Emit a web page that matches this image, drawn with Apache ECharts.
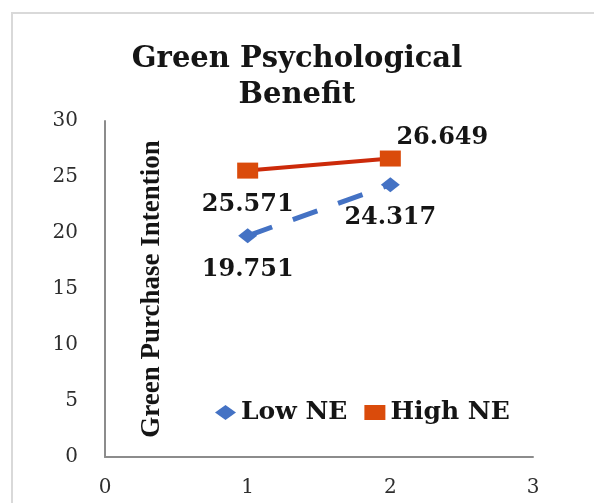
<!DOCTYPE html>
<html>
<head>
<meta charset="utf-8">
<script src="https://cdn.jsdelivr.net/npm/echarts@6/dist/echarts.min.js"></script>
<style>
  html, body { margin: 0; padding: 0; background: #fff; }
  #chart { width: 594px; height: 503px; }
</style>
</head>
<body>
<div id="chart"></div>
<script>
// values
const xValues = [1, 2];
const lowNE = [19.751, 24.317];
const highNE = [25.571, 26.649];
const seriesNames = ['Low NE', 'High NE'];

// the picture is a wide serif, DejaVu Serif gets the proportions closest
const wide = '"DejaVu Serif", serif';
const times = '"Liberation Serif", "Times New Roman", serif';

const toPoints = (vals) => vals.map((v, i) => [xValues[i], v]);

const labelStyle = {
  show: true,
  position: 'bottom',
  distance: 14,
  fontFamily: wide,
  fontWeight: 'bold',
  fontSize: 24,
  color: '#151515',
};

const chart = echarts.init(document.getElementById('chart'));

chart.setOption({
  animation: false,
  backgroundColor: '#fff',
  graphic: [
    {
      type: 'rect',
      shape: { x: 12, y: 13, width: 600, height: 500 },
      style: { fill: 'none', stroke: '#d9d9d9', lineWidth: 2 },
      silent: true,
    },
  ],
  title: {
    text: 'Green Psychological\nBenefit',
    left: 'center',
    top: 36,
    textStyle: {
      fontFamily: wide,
      fontWeight: 'bold',
      fontSize: 29,
      lineHeight: 36,
      color: '#151515',
    },
  },
  legend: {
    left: 210,
    top: 395,
    itemWidth: 21,
    itemHeight: 15,
    itemGap: 17,
    textStyle: {
      fontFamily: wide,
      fontWeight: 'bold',
      fontSize: 25,
      color: '#151515',
    },
    data: [
      { name: seriesNames[0], icon: 'diamond' },
      { name: seriesNames[1], icon: 'rect' },
    ],
  },
  grid: {
    left: 105,
    right: 61,
    top: 121,
    bottom: 46,
  },
  xAxis: {
    type: 'value',
    min: 0,
    max: 3,
    interval: 1,
    splitLine: { show: false },
    axisTick: { show: false },
    axisLine: { show: true, lineStyle: { color: '#8c8c8c', width: 2 } },
    axisLabel: {
      margin: 21,
      fontFamily: wide,
      fontSize: 20,
      color: '#2e2e2e',
    },
  },
  yAxis: {
    type: 'value',
    min: 0,
    max: 30,
    interval: 5,
    name: 'Green Purchase Intention',
    nameLocation: 'middle',
    nameRotate: 90,
    nameGap: -61,
    nameTextStyle: {
      fontFamily: times,
      fontWeight: 'bold',
      fontSize: 27,
      color: '#151515',
    },
    splitLine: { show: false },
    axisTick: { show: false },
    axisLine: { show: true, lineStyle: { color: '#8c8c8c', width: 2 } },
    axisLabel: {
      margin: 27,
      fontFamily: wide,
      fontSize: 20,
      color: '#2e2e2e',
    },
  },
  series: [
    {
      name: seriesNames[0],
      type: 'line',
      data: toPoints(lowNE),
      symbol: 'diamond',
      symbolSize: [19, 15],
      itemStyle: { color: '#4472c4' },
      lineStyle: { color: '#4472c4', width: 5, type: [26, 22] },
      label: labelStyle,
      z: 2,
    },
    {
      name: seriesNames[1],
      type: 'line',
      data: toPoints(highNE).map((p, i) =>
        // the right-hand value sits above and to the right of its marker
        i === 1
          ? { value: p, label: { position: 'top', distance: 1, offset: [52, 0] } }
          : p
      ),
      symbol: 'rect',
      symbolSize: [21, 16],
      itemStyle: { color: '#da4b0b' },
      lineStyle: { color: '#cc2a0a', width: 4 },
      label: labelStyle,
      z: 3,
    },
  ],
});
</script>
</body>
</html>
